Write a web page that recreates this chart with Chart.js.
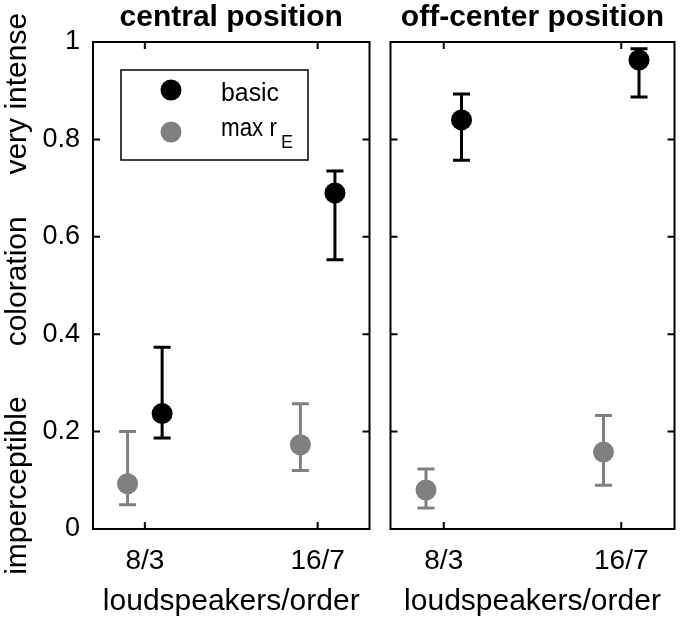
<!DOCTYPE html>
<html>
<head>
<meta charset="utf-8">
<script src="https://cdn.jsdelivr.net/npm/chart.js@4/dist/chart.umd.min.js"></script>
<style>
  body { margin: 0; background: #fff; }
  #wrap { position: relative; width: 685px; height: 623px; }
  canvas { position: absolute; top: 0; }
  #left { left: 0; }
  #right { left: 380px; }
</style>
</head>
<body>
<div id="wrap">
  <canvas id="left" width="380" height="623"></canvas>
  <canvas id="right" width="305" height="623"></canvas>
</div>
<script>
// categories on the x axis
const categories = ['8/3', '16/7'];
const catPos = [1, 2];
const yTicks = [0, 0.2, 0.4, 0.6, 0.8, 1];

// central position
const centralBasic = [0.237, 0.69];
const centralBasicLow = [0.187, 0.553];
const centralBasicHigh = [0.373, 0.735];
const centralMaxRE = [0.093, 0.173];
const centralMaxRELow = [0.05, 0.12];
const centralMaxREHigh = [0.20, 0.257];

// off-center position
const offBasic = [0.84, 0.963];
const offBasicLow = [0.757, 0.887];
const offBasicHigh = [0.893, 0.986];
const offMaxRE = [0.08, 0.158];
const offMaxRELow = [0.043, 0.09];
const offMaxREHigh = [0.123, 0.233];

const FONT = "'Liberation Sans', Arial, Helvetica, sans-serif";
const BLACK = '#000000';
const GREY = '#808080';
const dodge = 0.1;

function points(vals, lo, hi, shift){
    return vals.map((v, i) => ({x: catPos[i] + shift, y: v, lo: lo[i], hi: hi[i]}));
}

// error bars, the MATLAB style box with inward ticks, and the legend
const framePlugin = {
    id: 'frame',
    beforeDatasetsDraw(chart){
        const ctx = chart.ctx, xs = chart.scales.x, ys = chart.scales.y;
        chart.data.datasets.forEach(ds => {
            ctx.save();
            ctx.strokeStyle = ds.backgroundColor;
            ctx.lineWidth = 3;
            ds.data.forEach(p => {
                const x = xs.getPixelForValue(p.x);
                const y1 = ys.getPixelForValue(p.lo), y2 = ys.getPixelForValue(p.hi);
                ctx.beginPath();
                ctx.moveTo(x, y1); ctx.lineTo(x, y2);
                ctx.moveTo(x - 8.5, y1); ctx.lineTo(x + 8.5, y1);
                ctx.moveTo(x - 8.5, y2); ctx.lineTo(x + 8.5, y2);
                ctx.stroke();
            });
            ctx.restore();
        });
    },
    afterDraw(chart, args, opts){
        const ctx = chart.ctx, ca = chart.chartArea;
        const xs = chart.scales.x, ys = chart.scales.y;
        ctx.save();
        ctx.strokeStyle = '#000';
        ctx.lineWidth = 2;
        ctx.strokeRect(ca.left, ca.top, ca.right - ca.left, ca.bottom - ca.top);
        ctx.beginPath();
        const tl = 7;
        ys.ticks.forEach(t => {
            const y = ys.getPixelForValue(t.value);
            ctx.moveTo(ca.left, y); ctx.lineTo(ca.left + tl, y);
            ctx.moveTo(ca.right, y); ctx.lineTo(ca.right - tl, y);
        });
        xs.ticks.forEach(t => {
            const x = xs.getPixelForValue(t.value);
            ctx.moveTo(x, ca.bottom); ctx.lineTo(x, ca.bottom - tl);
            ctx.moveTo(x, ca.top); ctx.lineTo(x, ca.top + tl);
        });
        ctx.stroke();

        if(opts.legend){
            const lx = ca.left + 28, ly = ca.top + 28, lw = 187, lh = 90;
            ctx.fillStyle = '#fff';
            ctx.fillRect(lx, ly, lw, lh);
            ctx.lineWidth = 1.5;
            ctx.strokeRect(lx, ly, lw, lh);
            ctx.textBaseline = 'alphabetic';
            chart.data.datasets.forEach((ds, i) => {
                const cy = ly + 20 + i * 42;
                ctx.fillStyle = ds.backgroundColor;
                ctx.beginPath();
                ctx.arc(lx + 50, cy, 10.5, 0, Math.PI * 2);
                ctx.fill();
                ctx.fillStyle = '#000';
                ctx.font = '25px ' + FONT;
                if(ds.sub){
                    ctx.fillText(ds.label, lx + 100, cy + 4, 56);
                    ctx.font = '18px ' + FONT;
                    ctx.fillText(ds.sub, lx + 160, cy + 16);
                } else {
                    ctx.fillText(ds.label, lx + 100, cy + 11, 58);
                }
            });
        }
        ctx.restore();
    }
};

function makeChart(id, title, basic, maxRE, isLeft){
    return new Chart(document.getElementById(id), {
        type: 'scatter',
        plugins: [framePlugin],
        data: {
            datasets: [
                {label: 'basic', data: basic, backgroundColor: BLACK, borderColor: BLACK,
                 pointRadius: 10.5, pointHoverRadius: 10.5, borderWidth: 0, clip: false},
                {label: 'max r', sub: 'E', data: maxRE, backgroundColor: GREY, borderColor: GREY,
                 pointRadius: 10.5, pointHoverRadius: 10.5, borderWidth: 0, clip: false}
            ]
        },
        options: {
            responsive: false,
            animation: false,
            events: [],
            layout: {padding: {right: isLeft ? 6 : 3}},
            plugins: {
                legend: {display: false},
                tooltip: {enabled: false},
                title: {
                    display: true,
                    text: title,
                    color: '#000',
                    fullSize: false,
                    font: {family: FONT, size: 30, weight: 'bold'},
                    padding: {top: 0, bottom: 6}
                },
                frame: {legend: isLeft}
            },
            scales: {
                x: {
                    type: 'linear',
                    min: 0.7,
                    max: 2.3,
                    afterBuildTicks: s => { s.ticks = catPos.map(v => ({value: v})); },
                    afterFit: s => { s.height = 94; },
                    grid: {display: false, drawTicks: false},
                    border: {display: false},
                    ticks: {
                        color: '#000',
                        font: {family: FONT, size: 28},
                        padding: 15,
                        maxRotation: 0,
                        callback: v => categories[catPos.indexOf(v)]
                    },
                    title: {
                        display: true,
                        text: 'loudspeakers/order',
                        color: '#000',
                        font: {family: FONT, size: 30},
                        padding: {top: 0, bottom: 3}
                    }
                },
                y: {
                    type: 'linear',
                    min: 0,
                    max: 1,
                    afterBuildTicks: s => { s.ticks = yTicks.map(v => ({value: v})); },
                    afterFit: s => { s.width = isLeft ? 93 : 8; },
                    grid: {display: false, drawTicks: false},
                    border: {display: false},
                    ticks: {
                        display: isLeft,
                        color: '#000',
                        font: {family: FONT, size: 27},
                        padding: 13,
                        callback: v => String(v)
                    },
                    title: {
                        display: isLeft,
                        text: 'imperceptible      coloration     very intense  ',
                        color: '#000',
                        font: {family: FONT, size: 30},
                        padding: {top: 0, bottom: 0}
                    }
                }
            }
        }
    });
}

makeChart('left', 'central position',
    points(centralBasic, centralBasicLow, centralBasicHigh, dodge),
    points(centralMaxRE, centralMaxRELow, centralMaxREHigh, -dodge), true);
makeChart('right', 'off-center position',
    points(offBasic, offBasicLow, offBasicHigh, dodge),
    points(offMaxRE, offMaxRELow, offMaxREHigh, -dodge), false);
</script>
</body>
</html>
